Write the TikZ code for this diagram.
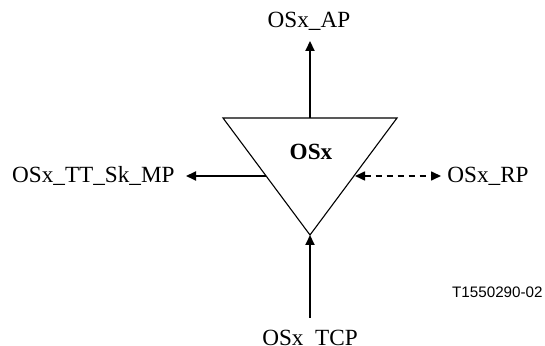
\documentclass[tikz,border=0pt]{standalone}
\usepackage{fontspec}
\setmainfont{Liberation Serif}
\newfontfamily\figsans{Liberation Sans}
\usetikzlibrary{arrows.meta}
\begin{document}
\begin{tikzpicture}[x=0.5pt,y=-0.5pt,
  lbl/.style={font=\fontsize{11.6pt}{13pt}\selectfont, inner sep=0pt},
  arr/.style={line width=1pt, -{Triangle[length=5pt,width=4.5pt]}},
  darr/.style={line width=0.8pt, dash pattern=on 3pt off 2.5pt, {Triangle[length=5pt,width=4.5pt]}-{Triangle[length=5pt,width=4.5pt]}},
  tri/.style={line width=0.55pt}]
\useasboundingbox (0,0) rectangle (545,346);
% triangle
\coordinate (tl) at (223,118);
\coordinate (tr) at (397,118);
\coordinate (apex) at (310,235);
\draw[tri] (tl) -- (tr) -- (apex) -- cycle;
\node[lbl, font=\fontsize{11.6pt}{13pt}\selectfont\bfseries] (osx) at (311,152) {OSx};
% labels
\node[lbl, anchor=base] (ap) at (309,28) {OSx\_AP};
\node[lbl, anchor=base east] (mp) at (175,183) {OSx\_TT\_Sk\_MP};
\node[lbl, anchor=base west] (rp) at (447,183) {OSx\_RP};
\node[lbl, anchor=base] (tcp) at (310,345.5) {OSx\_TCP};
\node[inner sep=0pt, anchor=east, font=\figsans\fontsize{7.6pt}{9pt}\selectfont] (tnum) at (543,292) {T1550290-02};
% connector end points
\coordinate (topmid) at (310,118);
\coordinate (aptip) at (310,41);
\coordinate (lefte) at (266,176);
\coordinate (mptip) at (186,176);
\coordinate (righte) at (355,176);
\coordinate (rptip) at (441,176);
\coordinate (tcpstart) at (310,318);
% arrows
\draw[arr] (topmid) -- (aptip);
\draw[arr] (lefte) -- (mptip);
\draw[darr] (righte) -- (rptip);
\draw[arr] (tcpstart) -- (apex);
\end{tikzpicture}
\end{document}
